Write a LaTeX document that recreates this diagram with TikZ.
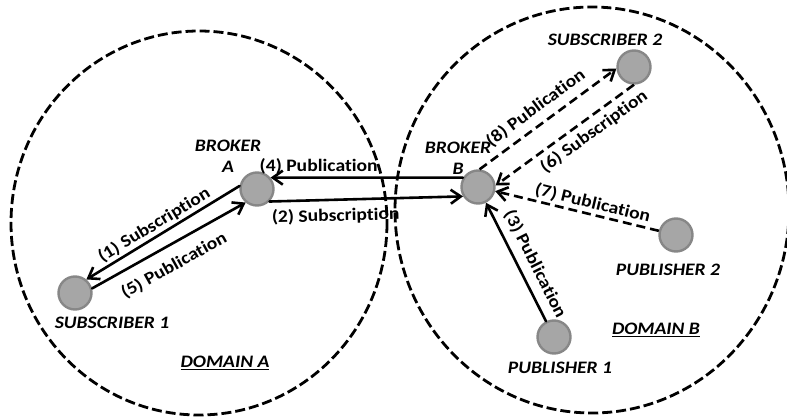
\documentclass[tikz,border=0pt]{standalone}
\usepackage{fontspec}
\setmainfont{Carlito}[FakeStretch=1.12,Ligatures=NoCommon]
\usetikzlibrary{arrows.meta}
\definecolor{peerfill}{RGB}{166,166,166}
\definecolor{peerline}{RGB}{135,135,135}
\begin{document}
\begin{tikzpicture}[x=1pt,y=-1pt,>={Straight Barb[length=10pt,width=14pt]},line join=round,line cap=round,
	every node/.style={font=\fontsize{17.5}{21}\selectfont\bfseries},
	peer/.style={circle,draw=peerline,fill=peerfill,line width=2.4pt,minimum size=33pt,inner sep=0pt},
	peername/.style={font=\fontsize{17.5}{21}\selectfont\bfseries\itshape,align=center},
	domainline/.style={line width=2.8pt,line cap=butt,dash pattern=on 10pt off 4pt},
	msg/.style={line width=2.6pt,->},
	dmsg/.style={msg,line cap=butt,dash pattern=on 9pt off 5pt},
	lbl/.style={sloped,inner sep=2pt}]
	\useasboundingbox (0,0) rectangle (787,417);
	% domains
	\draw[domainline] (199,223) ellipse [x radius=188,y radius=192];
	\draw[domainline] (592,210) ellipse [x radius=197,y radius=203];
	% peers
	\node[peer] (brokerA) at (257,189) {};
	\node[peer] (brokerB) at (478,187) {};
	\node[peer] (sub1) at (75,293) {};
	\node[peer] (sub2) at (634,67) {};
	\node[peer] (pub1) at (554,337) {};
	\node[peer] (pub2) at (676,235) {};
	\node[peername] (lblBrokerA) at (228,156) {BROKER\\A};
	\node[peername] (lblBrokerB) at (458,158) {BROKER\\B};
	\node[peername] (lblSub1) at (112,323) {SUBSCRIBER 1};
	\node[peername] (lblSub2) at (605,40) {SUBSCRIBER 2};
	\node[peername] (lblPub1) at (560,368) {PUBLISHER 1};
	\node[peername] (lblPub2) at (668,270) {PUBLISHER 2};
	\node[peername] (lblDomA) at (225,363) {\underline{DOMAIN A}};
	\node[peername] (lblDomB) at (656,330) {\underline{DOMAIN B}};
	% messages
	\draw[msg] (brokerA.170) -- node[lbl,above,pos=.52] {(1) Subscription} (sub1.50);
	\draw[msg] (sub1.15) -- node[lbl,below=9pt,pos=.47] {(5) Publication} (brokerA.230);
	\draw[msg] (brokerB.148) -- node[lbl,above,pos=.75] {(4) Publication} (brokerA.40);
	\draw[msg] (brokerA.315) -- node[lbl,below=5pt,pos=.34] {(2) Subscription} (brokerB.212);
	\draw[msg] (pub1) -- node[lbl,above=5pt,pos=.42] {(3) Publication} (brokerB);
	\draw[dmsg] (pub2) -- node[lbl,above,pos=.42] {(7) Publication} (brokerB);
	\draw[dmsg] (sub2.270) -- node[lbl,below=3pt,pos=.35] {(6) Subscription} (brokerB.5);
	\draw[dmsg] (brokerB.85) -- node[lbl,above=5pt,pos=.48] {(8) Publication} (sub2.185);
\end{tikzpicture}
\end{document}
